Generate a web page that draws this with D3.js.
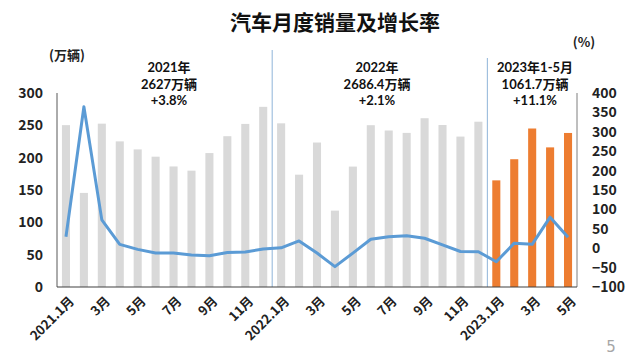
<!DOCTYPE html>
<html>
<head>
<meta charset="utf-8">
<script src="https://cdn.jsdelivr.net/npm/d3@7"></script>
<style>
  html, body { margin: 0; padding: 0; background: #fff; }
  svg { display: block; font-family: "Noto Sans CJK SC", "Noto Sans", sans-serif; }
</style>
</head>
<body>
<svg id="chart" width="640" height="357"></svg>
<script>
// ---- data ----
const months = [
  "2021-01","2021-02","2021-03","2021-04","2021-05","2021-06","2021-07","2021-08","2021-09","2021-10","2021-11","2021-12",
  "2022-01","2022-02","2022-03","2022-04","2022-05","2022-06","2022-07","2022-08","2022-09","2022-10","2022-11","2022-12",
  "2023-01","2023-02","2023-03","2023-04","2023-05"
];
const monthLabels = [
  "2021.1月","","3月","","5月","","7月","","9月","","11月","",
  "2022.1月","","3月","","5月","","7月","","9月","","11月","",
  "2023.1月","","3月","","5月"
];
// monthly sales (万辆)
const sales = [
  250.3,145.5,252.6,225.2,212.8,201.5,186.4,179.9,207.1,233.2,252.2,278.6,
  253.1,173.7,223.4,118.1,186.2,250.2,242.0,238.3,261.0,250.5,232.6,255.6,
  164.9,197.6,245.1,215.9,238.2
];
// year-on-year growth (%)
const growth = [
  29.5,364.7,73.0,10.0,-3.1,-12.5,-12.5,-17.8,-19.6,-11.0,-10.0,-2.0,
  0.9,18.7,-12.5,-47.6,-12.6,23.0,29.7,32.1,25.7,8.5,-8.5,-9.0,
  -35.0,13.0,10.0,80.0,28.0
];
const leftTicks = [0,50,100,150,200,250,300];
const rightTicks = [-100,-50,0,50,100,150,200,250,300,350,400];
const periodNotes = [
  {from: "2021-01", to: "2021-12", lines: ["2021年","2627万辆","+3.8%"]},
  {from: "2022-01", to: "2022-12", lines: ["2022年","2686.4万辆","+2.1%"]},
  {from: "2023-01", to: "2023-05", lines: ["2023年1-5月","1061.7万辆","+11.1%"]}
];
const title = "汽车月度销量及增长率";

// ---- layout ----
const svg = d3.select("#chart");
const L = 57, R = 577, T = 93, B = 287;

const x = d3.scaleBand().domain(months).range([L, R]).paddingInner(0.55).paddingOuter(0.275);
const yL = d3.scaleLinear().domain([0, 300]).range([B, T]);
const yR = d3.scaleLinear().domain([-100, 400]).range([B, T]);
const cx = m => x(m) + x.bandwidth() / 2;

// title
svg.append("text").attr("x", 335).attr("y", 30).attr("text-anchor", "middle")
  .attr("font-size", 21).attr("font-weight", "bold").attr("fill", "#111").text(title);

// unit labels
svg.append("text").attr("x", 67).attr("y", 60).attr("text-anchor", "middle")
  .attr("font-size", 13).attr("font-weight", "bold").attr("fill", "#222").text("(万辆)");
svg.append("text").attr("x", 584).attr("y", 47).attr("text-anchor", "middle")
  .attr("font-size", 13).attr("font-weight", "bold").attr("fill", "#222").text("(%)");

// separators between years
const sep = m => x(m) - x.step() * 0.275;
svg.append("line").attr("x1", sep("2022-01")).attr("x2", sep("2022-01"))
  .attr("y1", 50).attr("y2", B).attr("stroke", "#8fb4d9").attr("stroke-width", 1);
svg.append("line").attr("x1", sep("2023-01")).attr("x2", sep("2023-01"))
  .attr("y1", 58).attr("y2", B).attr("stroke", "#8fb4d9").attr("stroke-width", 1);

// bars
svg.append("g").selectAll("rect").data(months).join("rect")
  .attr("x", d => x(d)).attr("width", x.bandwidth())
  .attr("y", (d, i) => yL(sales[i])).attr("height", (d, i) => B - yL(sales[i]))
  .attr("fill", d => d >= "2023-01" ? "#ed7d31" : "#d9d9d9");

// growth line
const line = d3.line().x((d, i) => cx(months[i])).y(d => yR(d));
svg.append("path").datum(growth).attr("d", line)
  .attr("fill", "none").attr("stroke", "#5b9bd5").attr("stroke-width", 3)
  .attr("stroke-linejoin", "round");

// frame lines
svg.append("line").attr("x1", L).attr("x2", L).attr("y1", T).attr("y2", B).attr("stroke", "#595959");
svg.append("line").attr("x1", R).attr("x2", R).attr("y1", T).attr("y2", B).attr("stroke", "#7f7f7f");
svg.append("line").attr("x1", L).attr("x2", R).attr("y1", B).attr("y2", B).attr("stroke", "#404040").attr("stroke-width", 1.2);

// left axis
const gl = svg.append("g").attr("transform", `translate(${L},0)`)
  .call(d3.axisLeft(yL).tickValues(leftTicks).tickSize(0).tickPadding(14));
gl.select(".domain").remove();
gl.selectAll("text").attr("font-size", 14).attr("font-weight", "bold").attr("fill", "#222")
  .attr("font-family", "'Noto Sans CJK SC', sans-serif");

// right axis
const gr = svg.append("g").attr("transform", `translate(${R},0)`)
  .call(d3.axisRight(yR).tickValues(rightTicks).tickSize(0).tickPadding(15));
gr.select(".domain").remove();
gr.selectAll("text").attr("font-size", 14).attr("font-weight", "bold").attr("fill", "#222")
  .attr("font-family", "'Noto Sans CJK SC', sans-serif");

// bottom axis
const gb = svg.append("g").attr("transform", `translate(0,${B})`)
  .call(d3.axisBottom(x).tickSize(0).tickFormat((d, i) => monthLabels[i]));
gb.select(".domain").remove();
gb.selectAll("text").attr("x", 0).attr("y", 0).attr("dy", 0)
  .attr("text-anchor", "end").attr("transform", "translate(9,15) rotate(-45)")
  .attr("font-size", 13).attr("font-weight", "bold").attr("fill", "#222")
  .attr("font-family", "'Noto Sans CJK SC', sans-serif");

// period annotations
const noteX = [169, 377, 535];
periodNotes.forEach((p, k) => {
  p.lines.forEach((s, j) => {
    svg.append("text").attr("text-anchor", "middle").attr("font-size", 13)
      .attr("font-family", "Lato, 'Noto Sans CJK SC', sans-serif")
      .attr("font-weight", "bold").attr("fill", "#111")
      .attr("x", noteX[k]).attr("y", 72 + j * 16.5).text(s);
  });
});

// page number
svg.append("text").attr("x", 611).attr("y", 352).attr("text-anchor", "middle")
  .attr("font-size", 15).attr("fill", "#a6a6a6").attr("font-family", "'DejaVu Sans', sans-serif").text("5");
</script>
</body>
</html>
